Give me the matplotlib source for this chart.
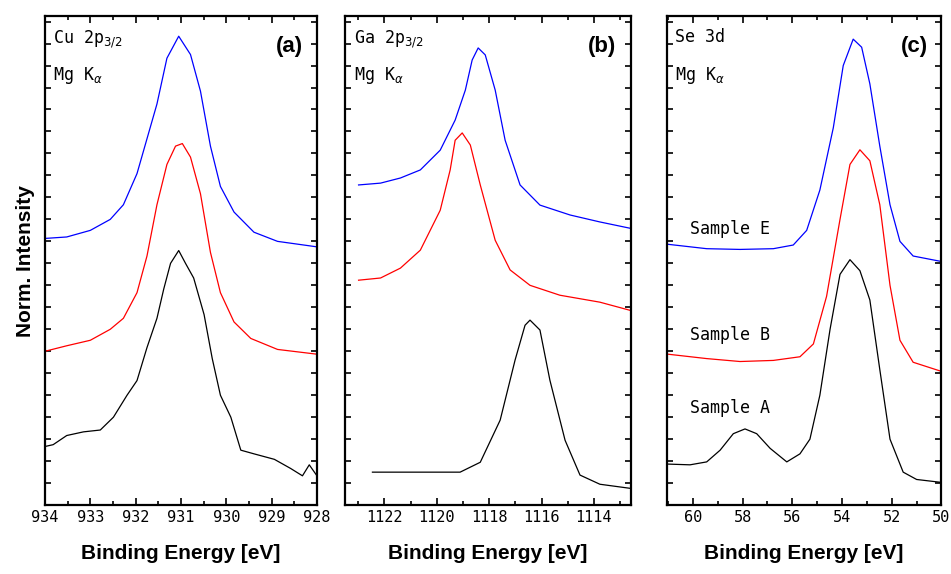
import matplotlib.pyplot as plt
from matplotlib.ticker import MultipleLocator, NullFormatter

# panel (a) Cu 2p3/2
a_blue_e = [934.00, 933.52, 933.00, 932.56, 932.27, 931.97, 931.75, 931.53, 931.31, 931.05, 930.79, 930.57, 930.35, 930.13, 929.83, 929.39, 928.87, 928.00]
a_blue_i = [72.8, 73.2, 75, 78, 82, 90.5, 100, 109.5, 122, 128, 123, 113, 98, 87, 80, 74.5, 72, 70.5]
a_red_e = [934.00, 933.52, 933.00, 932.56, 932.27, 931.97, 931.75, 931.53, 931.31, 931.12, 930.97, 930.79, 930.57, 930.35, 930.13, 929.83, 929.46, 928.87, 928.00]
a_red_i = [42, 43.5, 45, 48, 51, 58, 68, 82, 93, 98, 98.7, 95, 85, 69, 58, 50, 45.5, 42.5, 41.2]
a_blk_e = [934.00, 933.82, 933.52, 933.15, 932.78, 932.49, 932.19, 931.97, 931.75, 931.53, 931.38, 931.23, 931.05, 930.90, 930.72, 930.49, 930.31, 930.13, 929.90, 929.68, 929.39, 928.94, 928.58, 928.32, 928.17, 928.00]
a_blk_i = [16, 16.5, 19, 20, 20.5, 24, 30, 34, 43, 51, 59, 66, 69.5, 66, 62, 52, 40, 30, 24, 15, 14, 12.5, 10, 8, 11, 8]

# panel (b) Ga 2p3/2
b_blue_e = [1122.99, 1122.15, 1121.39, 1120.63, 1119.87, 1119.30, 1118.91, 1118.65, 1118.42, 1118.15, 1117.77, 1117.39, 1116.82, 1116.06, 1114.91, 1113.77, 1112.63]
b_blue_i = [87.4, 87.9, 89.3, 91.5, 96.9, 105.1, 113.3, 121.5, 124.8, 122.9, 113.3, 99.6, 87.4, 81.9, 79.2, 77.3, 75.6]
b_red_e = [1122.99, 1122.15, 1121.39, 1120.63, 1119.87, 1119.49, 1119.30, 1119.03, 1118.72, 1118.34, 1117.77, 1117.20, 1116.44, 1115.30, 1113.77, 1112.63]
b_red_i = [61.4, 62, 64.7, 69.6, 80.5, 91.5, 99.6, 101.6, 98.3, 87.4, 72.3, 64.2, 60, 57.3, 55.4, 53.2]
b_blk_e = [1122.46, 1120.63, 1119.11, 1118.34, 1117.58, 1117.01, 1116.63, 1116.44, 1116.06, 1115.68, 1115.10, 1114.53, 1113.77, 1112.63]
b_blk_i = [9, 9, 9, 11.7, 23.2, 39.6, 49.1, 50.5, 47.8, 34.1, 17.7, 8.2, 5.7, 4.6]

# panel (c) Se 3d
c_blue_e = [61.00, 59.44, 58.10, 56.76, 55.96, 55.42, 54.89, 54.35, 53.95, 53.55, 53.21, 52.88, 52.48, 52.07, 51.67, 51.14, 50.00]
c_blue_i = [71.2, 70, 69.8, 70, 71, 75, 86, 103, 120, 127.2, 125, 115, 98, 82, 72, 68, 66.5]
c_red_e = [61.00, 59.44, 58.10, 56.76, 55.69, 55.15, 54.62, 54.08, 53.68, 53.28, 52.88, 52.48, 52.07, 51.67, 51.14, 50.00]
c_red_i = [41.2, 40, 39.2, 39.5, 40.5, 44, 57, 78, 93, 97, 94, 82, 60, 45, 39, 36.5]
c_blk_e = [61.00, 60.11, 59.44, 58.90, 58.37, 57.90, 57.43, 56.89, 56.22, 55.69, 55.29, 54.89, 54.48, 54.08, 53.68, 53.28, 52.88, 52.48, 52.07, 51.54, 51.00, 50.00]
c_blk_i = [11.2, 11, 11.8, 15, 19.5, 20.8, 19.5, 15.5, 11.8, 14, 18, 30, 48, 63, 67, 64, 56, 37, 18, 9, 7, 6.2]

samples = ['Sample E', 'Sample B', 'Sample A']
sample_y = [75.5, 46.5, 26.5]

mono = 'DejaVu Sans Mono'
plt.rcParams['font.family'] = 'Liberation Sans'

fig = plt.figure(figsize=(9.51, 5.74), dpi=100)
axa = fig.add_axes([0.0473, 0.120, 0.286, 0.852])
axb = fig.add_axes([0.363, 0.120, 0.300, 0.852])
axc = fig.add_axes([0.701, 0.120, 0.289, 0.852])

panels = [
    (axa, (934, 928), 1, 0.5, [(a_blue_e, a_blue_i), (a_red_e, a_red_i), (a_blk_e, a_blk_i)], 'Cu 2p$_{3/2}$', '(a)'),
    (axb, (1123.5, 1112.6), 2, 1, [(b_blue_e, b_blue_i), (b_red_e, b_red_i), (b_blk_e, b_blk_i)], 'Ga 2p$_{3/2}$', '(b)'),
    (axc, (61.05, 50), 2, 1, [(c_blue_e, c_blue_i), (c_red_e, c_red_i), (c_blk_e, c_blk_i)], 'Se 3d', '(c)'),
]
colors = ['blue', 'red', 'black']

for ax, xl, maj, mnr, curves, core, tag in panels:
    for (e, i), col in zip(curves, colors):
        ax.plot(e, i, color=col, lw=0.9)
    ax.set_xlim(*xl)
    ax.set_ylim(0, 133.5)
    ax.xaxis.set_major_locator(MultipleLocator(maj))
    ax.xaxis.set_minor_locator(MultipleLocator(mnr))
    ax.yaxis.set_major_locator(MultipleLocator(6))
    ax.yaxis.set_major_formatter(NullFormatter())
    ax.tick_params(which='both', direction='in', top=True, right=True, width=1.2)
    ax.tick_params(which='major', length=5)
    ax.tick_params(which='minor', length=3)
    ax.tick_params(axis='y', length=4)
    for lab in ax.get_xticklabels():
        lab.set_fontfamily(mono)
        lab.set_fontsize(11)
    for s in ax.spines.values():
        s.set_linewidth(1.6)
    ax.set_xlabel('Binding Energy [eV]', fontsize=15, fontweight='bold', labelpad=14)
    ax.text(0.03, 0.975, core, transform=ax.transAxes, family=mono, fontsize=12, va='top')
    ax.text(0.03, 0.90, r'Mg K$_\alpha$', transform=ax.transAxes, family=mono, fontsize=12, va='top')
    ax.text(0.95, 0.96, tag, transform=ax.transAxes, fontsize=16, fontweight='bold', va='top', ha='right')

for s, y in zip(samples, sample_y):
    axc.text(60.1, y, s, family=mono, fontsize=12, va='center', ha='left')

axa.set_ylabel('Norm. Intensity', fontsize=15, fontweight='bold', labelpad=4)

fig.savefig('out.png', dpi=100)
